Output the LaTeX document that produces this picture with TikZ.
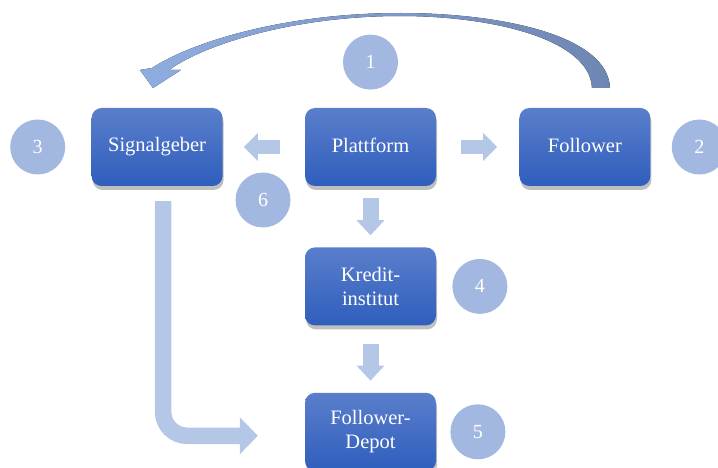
\documentclass[tikz,border=0pt]{standalone}
\usepackage{fontspec}
\setmainfont{Liberation Serif}
\usetikzlibrary{positioning}
\usetikzlibrary{shadows}
\usetikzlibrary{arrows.meta}
\definecolor{boxtop}{HTML}{5A7ECB}
\definecolor{boxbottom}{HTML}{2F5EBD}
\definecolor{numfill}{HTML}{A3B8E0}
\definecolor{flowfill}{HTML}{B4C7E7}
\definecolor{arcleft}{HTML}{8FADE0}
\definecolor{arcright}{HTML}{6E86B2}
\tikzset{
  box/.style            = { rectangle, minimum width=131pt, minimum height=78pt, inner sep=0pt },
  round/.style          = { rounded corners=10pt },
  filled/.style         = { top color=boxtop, bottom color=boxbottom },
}
\tikzset{
  party/.style={
    box,
    round,
    filled,
    drop shadow={shadow xshift=1pt, shadow yshift=-4pt, opacity=0.5},
    text=white,
    align=center,
    font=\fontsize{20.5}{24}\selectfont
  },
  num/.style            = { circle, fill=numfill, minimum size=55pt, inner sep=0pt, text=white, font=\fontsize{20}{24}\selectfont },
  flow/.style           = { draw=flowfill, line width=14pt, -{Triangle[length=14pt,width=28pt,line width=0pt]} },
  downflow/.style       = { flow, line width=16pt, -{Triangle[length=15pt,width=28pt,line width=0pt]} }
}
\begin{document}
\begin{tikzpicture}[x=1pt, y=-1pt, node distance=20pt]
  \useasboundingbox (0,0) rectangle (718,468);
  \clip (0,0) rectangle (718,468);

  \node (plat)   [party] at (370.5,147)     {\raisebox{3pt}{Plattform}};
  \node (sig)    [party,left=82pt of plat]  {\raisebox{3pt}{Signalgeber}};
  \node (fol)    [party,right=83pt of plat] {\raisebox{3pt}{Follower}};
  \node (kredit) [party,below=61pt of plat] {Kredit-\\institut};
  \node (depot)  [party,below=67pt of kredit] {Follower-\\Depot};

  \node (one)   [num,above=18pt of plat]   {1};
  \node (two)   [num,right=21pt of fol]    {2};
  \node (three) [num,left=26pt of sig]     {3};
  \node (four)  [num,right=16pt of kredit] {4};
  \node (five)  [num,right=14pt of depot]  {5};
  \node (six)   [num] at (263,200)         {6};

  \draw [flow, shorten <=25pt, shorten >=21pt] (plat.west) -- (sig.east |- plat.west);
  \draw [flow, shorten <=25pt, shorten >=22pt] (plat.east) -- (fol.west |- plat.east);
  \draw [downflow, shorten <=12pt, shorten >=12pt] (plat.south) -- (kredit.north);
  \draw [downflow, shorten <=18pt, shorten >=12pt] (kredit.south) -- (depot.north);
  \draw [flow, line width=16.5pt, rounded corners=24pt, -{Triangle[length=18pt,width=37pt,line width=0pt]}]
    ([xshift=6pt,yshift=-15pt]sig.south) |- ([xshift=-47pt,yshift=-4pt]depot.west);

  % curved arrow from Follower back to Signalgeber
  \fill [left color=arcleft, right color=arcright]
    (610,88) .. controls (608,35) and (500,13) .. (400,13)
             .. controls (290,13) and (195,40) .. (152,68)
    -- (140,70) -- (153,88) -- (181,70) -- (169,70)
             .. controls (205,44) and (295,16) .. (400,16)
             .. controls (495,16) and (590,40) .. (592,88) -- cycle;
\end{tikzpicture}
\end{document}
